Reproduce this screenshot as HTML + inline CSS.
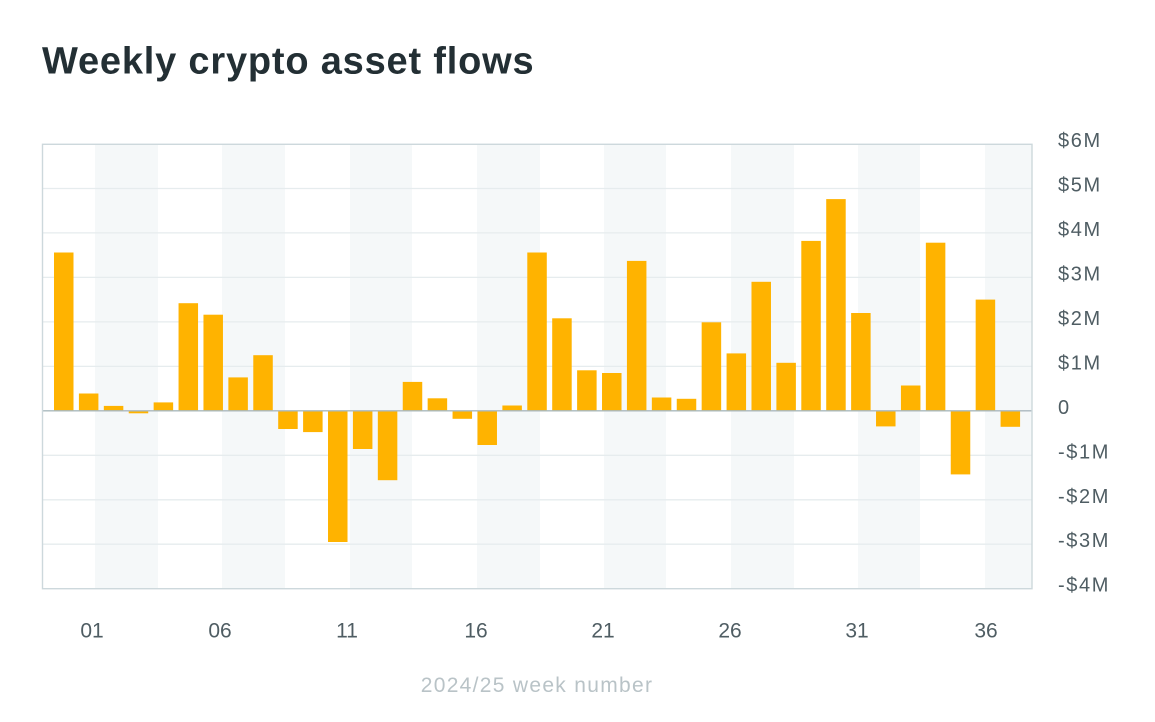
<!DOCTYPE html>
<html>
<head>
<meta charset="utf-8">
<style>
  html, body { margin: 0; padding: 0; background: #ffffff; }
  body { width: 1155px; height: 722px; overflow: hidden; }
  svg { display: block; }
  .title { font-family: "Liberation Sans", sans-serif; font-weight: bold; font-size: 38px; fill: #232f34; letter-spacing: 0.8px; }
  .tick { font-family: "Liberation Sans", sans-serif; font-size: 21px; fill: #4f5d63; }
  .ytick { font-family: "Liberation Sans", sans-serif; font-size: 20px; fill: #4f5d63; letter-spacing: 1.6px; }
  .axt { font-family: "Liberation Sans", sans-serif; font-size: 21px; fill: #b9c3c7; letter-spacing: 1.3px; }
</style>
</head>
<body>
<svg width="1155" height="722" viewBox="0 0 1155 722" xmlns="http://www.w3.org/2000/svg">
  <text class="title" x="42" y="73.5">Weekly crypto asset flows</text>

  <!-- bands -->
  <g fill="#f5f8f9">
    <rect x="95" y="144" width="63" height="444.7"/>
    <rect x="222" y="144" width="63" height="444.7"/>
    <rect x="350" y="144" width="62" height="444.7"/>
    <rect x="477" y="144" width="63" height="444.7"/>
    <rect x="604" y="144" width="62" height="444.7"/>
    <rect x="731" y="144" width="63" height="444.7"/>
    <rect x="858" y="144" width="62" height="444.7"/>
    <rect x="985" y="144" width="47" height="444.7"/>
  </g>

  <!-- grid -->
  <g stroke="#e6ecee" stroke-width="1.3">
    <line x1="42" x2="1032" y1="188.5" y2="188.5"/>
    <line x1="42" x2="1032" y1="232.9" y2="232.9"/>
    <line x1="42" x2="1032" y1="277.4" y2="277.4"/>
    <line x1="42" x2="1032" y1="321.9" y2="321.9"/>
    <line x1="42" x2="1032" y1="366.4" y2="366.4"/>
    <line x1="42" x2="1032" y1="455.3" y2="455.3"/>
    <line x1="42" x2="1032" y1="499.8" y2="499.8"/>
    <line x1="42" x2="1032" y1="544.2" y2="544.2"/>
  </g>

  <!-- bars -->
  <g fill="#ffb300">
    <rect x="54" y="252.5" width="19.5" height="158.3"/>
    <rect x="78.91" y="393.5" width="19.5" height="17.3"/>
    <rect x="103.82" y="405.9" width="19.5" height="4.9"/>
    <rect x="128.73" y="410.8" width="19.5" height="2.5"/>
    <rect x="153.64" y="402.4" width="19.5" height="8.4"/>
    <rect x="178.55" y="303.2" width="19.5" height="107.6"/>
    <rect x="203.46" y="314.7" width="19.5" height="96.1"/>
    <rect x="228.37" y="377.4" width="19.5" height="33.4"/>
    <rect x="253.28" y="355.2" width="19.5" height="55.6"/>
    <rect x="278.19" y="410.8" width="19.5" height="18.2"/>
    <rect x="303.1" y="410.8" width="19.5" height="21.3"/>
    <rect x="328.01" y="410.8" width="19.5" height="131.2"/>
    <rect x="352.92" y="410.8" width="19.5" height="38.2"/>
    <rect x="377.83" y="410.8" width="19.5" height="69.4"/>
    <rect x="402.74" y="381.9" width="19.5" height="28.9"/>
    <rect x="427.65" y="398.3" width="19.5" height="12.5"/>
    <rect x="452.56" y="410.8" width="19.5" height="8.0"/>
    <rect x="477.47" y="410.8" width="19.5" height="34.2"/>
    <rect x="502.38" y="405.5" width="19.5" height="5.3"/>
    <rect x="527.29" y="252.5" width="19.5" height="158.3"/>
    <rect x="552.2" y="318.3" width="19.5" height="92.5"/>
    <rect x="577.11" y="370.3" width="19.5" height="40.5"/>
    <rect x="602.02" y="373" width="19.5" height="37.8"/>
    <rect x="626.93" y="260.9" width="19.5" height="149.9"/>
    <rect x="651.84" y="397.5" width="19.5" height="13.3"/>
    <rect x="676.75" y="398.8" width="19.5" height="12.0"/>
    <rect x="701.66" y="322.3" width="19.5" height="88.5"/>
    <rect x="726.57" y="353.4" width="19.5" height="57.4"/>
    <rect x="751.48" y="281.8" width="19.5" height="129"/>
    <rect x="776.39" y="362.8" width="19.5" height="48"/>
    <rect x="801.3" y="240.9" width="19.5" height="169.9"/>
    <rect x="826.21" y="199.1" width="19.5" height="211.7"/>
    <rect x="851.12" y="313" width="19.5" height="97.8"/>
    <rect x="876.03" y="410.8" width="19.5" height="15.6"/>
    <rect x="900.94" y="385.5" width="19.5" height="25.3"/>
    <rect x="925.85" y="242.7" width="19.5" height="168.1"/>
    <rect x="950.76" y="410.8" width="19.5" height="63.6"/>
    <rect x="975.67" y="299.6" width="19.5" height="111.2"/>
    <rect x="1000.58" y="410.8" width="19.5" height="16.0"/>
  </g>

  <!-- zero line -->
  <line x1="42" x2="1032" y1="410.8" y2="410.8" stroke="#aab9be" stroke-width="1.4"/>

  <!-- plot border -->
  <rect x="42.5" y="144.3" width="989.5" height="444.4" fill="none" stroke="#cdd8dc" stroke-width="1.4"/>

  <!-- y labels -->
  <g class="ytick">
    <text x="1058" y="147">$6M</text>
    <text x="1058" y="191.5">$5M</text>
    <text x="1058" y="236">$4M</text>
    <text x="1058" y="280.4">$3M</text>
    <text x="1058" y="324.9">$2M</text>
    <text x="1058" y="369.4">$1M</text>
    <text x="1058" y="413.8">0</text>
    <text x="1058" y="458.3">-$1M</text>
    <text x="1058" y="502.8">-$2M</text>
    <text x="1058" y="547.2">-$3M</text>
    <text x="1058" y="591.7">-$4M</text>
  </g>

  <!-- x labels -->
  <g class="tick" text-anchor="middle">
    <text x="92" y="637.5">01</text>
    <text x="220" y="637.5">06</text>
    <text x="347" y="637.5">11</text>
    <text x="476" y="637.5">16</text>
    <text x="603" y="637.5">21</text>
    <text x="730" y="637.5">26</text>
    <text x="857" y="637.5">31</text>
    <text x="986" y="637.5">36</text>
  </g>

  <text class="axt" x="537" y="692" text-anchor="middle">2024/25 week number</text>
</svg>
</body>
</html>
